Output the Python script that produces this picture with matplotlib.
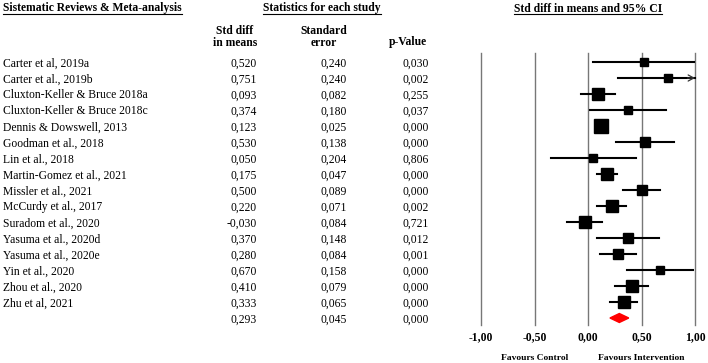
import numpy as np
import matplotlib
matplotlib.use('Agg')
import matplotlib.pyplot as plt
import matplotlib.transforms as mtransforms
from matplotlib.lines import Line2D
from matplotlib.patches import Polygon

plt.rcParams['font.family'] = ['Liberation Serif', 'DejaVu Serif']

studies = ['Carter et al, 2019a', 'Carter et al., 2019b', 'Cluxton-Keller & Bruce 2018a',
           'Cluxton-Keller & Bruce 2018c', 'Dennis & Dowswell, 2013', 'Goodman et al., 2018',
           'Lin et al., 2018', 'Martin-Gomez et al., 2021', 'Missler et al., 2021',
           'McCurdy et al., 2017', 'Suradom et al., 2020', 'Yasuma et al., 2020d',
           'Yasuma et al., 2020e', 'Yin et al., 2020', 'Zhou et al., 2020', 'Zhu et al, 2021']
smd = [0.520, 0.751, 0.093, 0.374, 0.123, 0.530, 0.050, 0.175, 0.500, 0.220,
       -0.030, 0.370, 0.280, 0.670, 0.410, 0.333]
se = [0.240, 0.240, 0.082, 0.180, 0.025, 0.138, 0.204, 0.047, 0.089, 0.071,
      0.084, 0.148, 0.084, 0.158, 0.079, 0.065]
pval = [0.030, 0.002, 0.255, 0.037, 0.000, 0.000, 0.806, 0.000, 0.000, 0.002,
        0.721, 0.012, 0.001, 0.000, 0.000, 0.000]
lower = [0.050, 0.281, -0.068, 0.021, 0.074, 0.260, -0.350, 0.083, 0.326, 0.081,
         -0.195, 0.080, 0.115, 0.360, 0.255, 0.206]
upper = [0.990, 1.221, 0.254, 0.727, 0.172, 0.800, 0.450, 0.267, 0.674, 0.359,
         0.135, 0.660, 0.445, 0.980, 0.565, 0.460]
# relative weights (%)
weight = [3.9, 3.9, 7.4, 3.9, 10.4, 5.5, 3.9, 7.4, 6.1, 7.4, 7.4, 5.0, 6.8, 4.4, 7.4, 8.9]

pooled_smd, pooled_se, pooled_p = 0.293, 0.045, 0.000
pooled_lower, pooled_upper = 0.205, 0.381

xticks = [-1.0, -0.5, 0.0, 0.5, 1.0]

W, H = 708, 363
fig = plt.figure(figsize=(W / 100, H / 100), dpi=100)


def fx(px):
    return px / W


def fy(py):
    return 1 - py / H


n = len(studies)
ax = fig.add_axes([fx(481), fy(325), (695 - 481) / W, (325 - 53) / H])
ax.set_xlim(-1, 1)
ax.set_ylim(n + 0.4375, -0.5625)
for s in ax.spines.values():
    s.set_visible(False)
ax.set_yticks([])
ax.set_xticks(xticks)
ax.set_xticklabels([f'{v:.2f}'.replace('.', ',') for v in xticks],
                   fontsize=8.4, fontweight='bold')
ax.tick_params(axis='x', length=0, pad=4.5)

for v in xticks:
    ax.axvline(v, color='#777777', lw=1.0, clip_on=False, zorder=1)

wmax = max(weight)
for i in range(n):
    lo, hi = lower[i], upper[i]
    ax.plot([lo, min(hi, 1.0)], [i, i], color='black', lw=1.5, zorder=2, clip_on=False)
    if hi > 1.0:
        # open arrow head where the interval runs off the scale
        ax.annotate('', xy=(1.0, i), xytext=(0.93, i),
                    arrowprops=dict(arrowstyle='->,head_length=0.4,head_width=0.22',
                                    lw=0.9, color='#333333', shrinkA=0, shrinkB=0))
    ms = 9.4 * np.sqrt(weight[i] / wmax)
    ax.plot(smd[i], i, marker='s', ms=ms, color='black', mec='black', zorder=3)

h = 0.28
ax.add_patch(Polygon([[pooled_lower, n], [pooled_smd, n - h], [pooled_upper, n], [pooled_smd, n + h]],
                     closed=True, color='#ff0000', zorder=3))

# table columns
tr = mtransforms.blended_transform_factory(fig.transFigure, ax.transData)
fs = 8.4
for i in range(n):
    yb = i + 0.28
    fig.text(fx(3), yb, studies[i], transform=tr, fontsize=fs, va='baseline', ha='left')
    fig.text(fx(257), yb, f'{smd[i]:.3f}'.replace('.', ','), transform=tr, fontsize=fs,
             va='baseline', ha='right')
    fig.text(fx(347), yb, f'{se[i]:.3f}'.replace('.', ','), transform=tr, fontsize=fs,
             va='baseline', ha='right')
    fig.text(fx(429), yb, f'{pval[i]:.3f}'.replace('.', ','), transform=tr, fontsize=fs,
             va='baseline', ha='right')
yb = n + 0.28
fig.text(fx(257), yb, f'{pooled_smd:.3f}'.replace('.', ','), transform=tr, fontsize=fs,
         va='baseline', ha='right')
fig.text(fx(347), yb, f'{pooled_se:.3f}'.replace('.', ','), transform=tr, fontsize=fs,
         va='baseline', ha='right')
fig.text(fx(429), yb, f'{pooled_p:.3f}'.replace('.', ','), transform=tr, fontsize=fs,
         va='baseline', ha='right')

# headers
headers = [
    fig.text(fx(3), fy(11.5), 'Sistematic Reviews & Meta-analysis', fontsize=fs,
             fontweight='bold', ha='left', va='baseline'),
    fig.text(fx(263), fy(11.5), 'Statistics for each study', fontsize=fs,
             fontweight='bold', ha='left', va='baseline'),
    fig.text(fx(588), fy(11.5), 'Std diff in means and 95% CI', fontsize=fs,
             fontweight='bold', ha='center', va='baseline'),
]
fig.text(fx(235), fy(33.5), 'Std diff', fontsize=fs, fontweight='bold', ha='center', va='baseline')
fig.text(fx(235), fy(45.5), 'in means', fontsize=fs, fontweight='bold', ha='center', va='baseline')
fig.text(fx(324), fy(33.5), 'Standard', fontsize=fs, fontweight='bold', ha='center', va='baseline')
fig.text(fx(324), fy(45.5), 'error', fontsize=fs, fontweight='bold', ha='center', va='baseline')
fig.text(fx(408), fy(45.5), 'p-Value', fontsize=fs, fontweight='bold', ha='center', va='baseline')

trf = mtransforms.blended_transform_factory(ax.transData, fig.transFigure)
ax.text(-0.5, fy(360), 'Favours Control', transform=trf, fontsize=6.8,
        fontweight='bold', ha='center', va='baseline')
ax.text(0.5, fy(360), 'Favours Intervention', transform=trf, fontsize=6.8,
        fontweight='bold', ha='center', va='baseline')

# underline the headers
fig.canvas.draw()
inv = fig.transFigure.inverted()
for t in headers:
    bb = t.get_window_extent().transformed(inv)
    fig.add_artist(Line2D([bb.x0, bb.x1], [fy(13.8), fy(13.8)], color='black', lw=0.8,
                          transform=fig.transFigure))

fig.savefig('out.png', dpi=100)
